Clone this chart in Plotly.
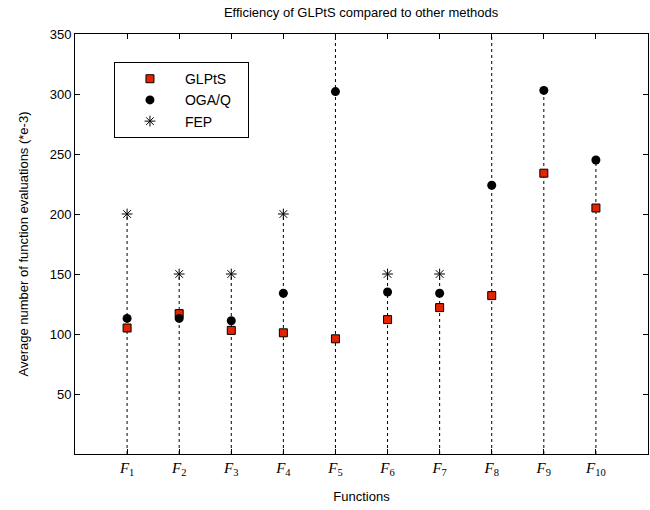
import plotly.graph_objects as go

functions = ["F1", "F2", "F3", "F4", "F5", "F6", "F7", "F8", "F9", "F10"]
tick_labels = ["<i>F</i><sub>%d</sub>" % i for i in range(1, 11)]
x_pos = list(range(1, 11))
glpts = [105, 117, 103, 101, 96, 112, 122, 132, 234, 205]
ogaq = [113, 113, 111, 134, 302, 135, 134, 224, 303, 245]
fep = [200, 150, 150, 200, None, 150, 150, None, None, None]
stem_top = [200, 150, 150, 200, 350, 150, 150, 350, 303, 245]

fig = go.Figure()

sx, sy = [], []
for x, t in zip(x_pos, stem_top):
    sx += [x, x, None]
    sy += [0, t, None]
fig.add_trace(go.Scatter(x=sx, y=sy, mode="lines", showlegend=False, hoverinfo="skip",
                         line=dict(color="black", width=1, dash="3px,3px")))

fig.add_trace(go.Scatter(x=x_pos, y=glpts, mode="markers", name="GLPtS   ",
                         marker=dict(symbol="square", size=8, color="#e42400",
                                     line=dict(color="black", width=1))))
fig.add_trace(go.Scatter(x=x_pos, y=ogaq, mode="markers", name="OGA/Q   ",
                         marker=dict(symbol="circle", size=9, color="black",
                                     line=dict(color="black", width=0))))
fig.add_trace(go.Scatter(x=x_pos, y=fep, mode="markers", name="FEP",
                         marker=dict(symbol="asterisk-open", size=9, color="black",
                                     line=dict(color="black", width=1))))

fig.update_layout(
    width=650, height=510,
    margin=dict(l=75, r=2, t=34, b=56),
    paper_bgcolor="white", plot_bgcolor="white",
    font=dict(family="Liberation Sans, Arial, sans-serif", size=12, color="black"),
    title=dict(text="Efficiency of GLPtS compared to other methods", x=0.5555, xanchor="center",
               y=0.976, yanchor="middle", font=dict(size=13)),
    legend=dict(x=0.068, y=0.933, xanchor="left", yanchor="top", bgcolor="white",
                bordercolor="black", borderwidth=1, font=dict(size=14),
                itemwidth=60),
    xaxis=dict(range=[0, 11], tickvals=x_pos, ticktext=tick_labels,
               showgrid=False, zeroline=False, showline=True, linecolor="black",
               linewidth=1, mirror="ticks", ticks="inside", ticklen=5,
               tickcolor="black",
               tickfont=dict(family="Liberation Serif, Times New Roman, serif", size=15),
               title=dict(text="Functions", standoff=14, font=dict(size=13))),
    yaxis=dict(range=[0, 350], tickvals=[50, 100, 150, 200, 250, 300, 350],
               showgrid=False, zeroline=False, showline=True, linecolor="black",
               linewidth=1, mirror="ticks", ticks="inside", ticklen=5,
               tickcolor="black", tickfont=dict(size=13),
               title=dict(text="Average number of function evaluations (*e-3)",
                          standoff=18, font=dict(size=13))),
)

fig.write_html("out.html")
